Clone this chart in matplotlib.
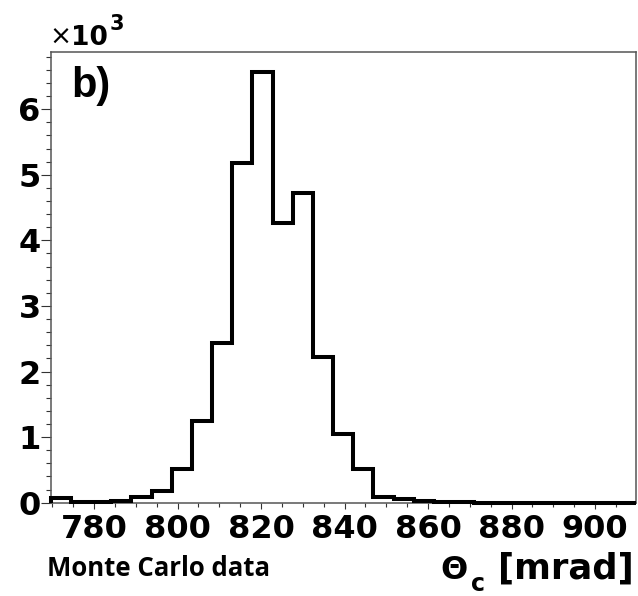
import numpy as np
import matplotlib
matplotlib.use("Agg")
import matplotlib.pyplot as plt
from matplotlib.ticker import MultipleLocator

plt.rcParams['font.family'] = ['DejaVu Sans']
plt.rcParams['font.weight'] = 'bold'

# histogram: 29 bins between 769.6 and 909.7 mrad
x_lo, x_hi = 769.6, 909.7
n_bins = 29
counts = [70, 5, 5, 25, 90, 178, 509, 1250, 2430, 5174, 6570, 4259, 4726,
          2226, 1047, 509, 82, 52, 21, 6, 4, 3, 2, 2, 1, 1, 1, 0, 0]
y_max = 6880

x_ticks = [780, 800, 820, 840, 860, 880, 900]
y_ticks = [0, 1000, 2000, 3000, 4000, 5000, 6000]
y_tick_labels = ['0', '1', '2', '3', '4', '5', '6']

W, H = 638, 596
fig = plt.figure(figsize=(W / 100, H / 100), dpi=100)
left, right, top, bottom = 50.7, 635.5, 51.5, 502.7
ax = fig.add_axes([left / W, 1 - bottom / H, (right - left) / W, (bottom - top) / H])

edges = np.linspace(x_lo, x_hi, n_bins + 1)
ax.stairs(counts, edges, color='black', linewidth=2.9, clip_on=False,
          zorder=5, joinstyle='miter', capstyle='butt')

ax.set_xlim(x_lo, x_hi)
ax.set_ylim(0, y_max)

ax.set_xticks(x_ticks)
ax.xaxis.set_minor_locator(MultipleLocator(5))
ax.set_yticks(y_ticks)
ax.set_yticklabels(y_tick_labels)
ax.yaxis.set_minor_locator(MultipleLocator(200))

ax.tick_params(axis='x', which='major', length=4.3, width=0.8, pad=4,
               labelsize=23, color='#333333')
ax.tick_params(axis='x', which='minor', length=2.9, width=0.8, color='#333333')
ax.tick_params(axis='y', which='major', length=7.2, width=0.8, pad=0,
               labelsize=23, color='#333333')
ax.tick_params(axis='y', which='minor', length=3.6, width=0.8, color='#333333')

for s in ax.spines.values():
    s.set_color('#555555')
    s.set_linewidth(1.1)


def px(x, y):
    return x / W, 1 - y / H


# exponent label
fig.text(*px(49, 45), '\u00d7', fontsize=19, fontweight='normal', va='baseline')
fig.text(*px(71, 45), '10', fontsize=19, va='baseline')
fig.text(*px(110, 30), '3', fontsize=15, va='baseline')

fig.text(*px(71, 97), 'b)', fontsize=30, family='Liberation Sans', va='baseline')

fig.text(*px(47, 576), 'Monte Carlo data', fontsize=18.5, family='Open Sans',
         fontweight='bold', va='baseline')

# axis title: Theta, lowered subscript c, unit
fig.text(*px(634, 579), '[mrad]', fontsize=25.5, ha='right', va='baseline')
fig.text(*px(440, 579), '\u0398', fontsize=23, va='baseline')
fig.text(*px(471, 591), 'c', fontsize=17, va='baseline')

fig.savefig('out.png', dpi=100)
